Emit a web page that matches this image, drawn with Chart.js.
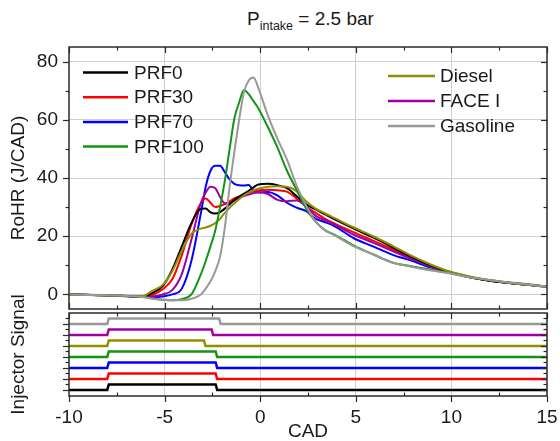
<!DOCTYPE html>
<html><head><meta charset="utf-8">
<script src="https://cdn.jsdelivr.net/npm/chart.js@4.4.1/dist/chart.umd.min.js"></script>
<style>
html,body{margin:0;padding:0;background:#fff;}
#wrap{position:relative;width:560px;height:441px;overflow:hidden;font-family:'Liberation Sans',Arial,sans-serif;color:#1a1a1a;}
#c1{position:absolute;left:0;top:0;}
#c2{position:absolute;left:0;top:280px;}
#title{position:absolute;left:247px;top:9px;font-size:19px;line-height:19px;white-space:nowrap;}
#title sub{font-size:12.5px;position:relative;top:5px;vertical-align:baseline;}
</style></head>
<body><div id="wrap">
<div id="title">P<sub>intake</sub> = 2.5 bar</div>
<canvas id="c1" width="560" height="312"></canvas>
<canvas id="c2" width="560" height="161"></canvas>
</div>
<script>
// ---- data ----
const cad = [-10, -8.15, -6.15, -5.65, -5.1, -4.6, -4.1, -3.6, -3.1, -2.85, -2.6, -2.35, -2.1, -1.85, -1.6, -1.35, -1.1, -0.85, -0.6, -0.35, -0.1, 0.4, 0.9, 1.4, 1.9, 2.4, 2.9, 3.4, 3.9, 4.9, 5.9, 6.9, 7.9, 8.95, 9.95, 10.95, 11.95, 12.95, 14, 15];
const prf0 = [0, -0.3, -0.6, 0.5, 2.9, 8.5, 16.5, 24.5, 29.4, 29.5, 28.2, 27.8, 28.3, 29.5, 31, 32.5, 33.6, 34.6, 35.6, 36.8, 37.8, 38, 37.5, 36.5, 33.8, 31, 29.2, 27.5, 25.8, 22.6, 19.6, 16.3, 12.9, 9.9, 7.6, 6, 4.8, 4, 3.3, 2.7];
const prf30 = [0, -0.3, -0.7, -0.2, 1.8, 5.2, 13.5, 24, 31.4, 33, 31.5, 30, 30.4, 31, 32, 33, 33.6, 34.3, 34.9, 35.4, 35.8, 36, 35.8, 35.3, 33, 30.2, 28, 26, 24.3, 21.3, 18.5, 15.6, 12.5, 9.6, 7.5, 5.9, 4.8, 4, 3.3, 2.7];
const prf70 = [0, -0.3, -0.8, -0.9, -0.7, 0, 2, 11.5, 28, 37, 42.5, 44.2, 44.2, 42, 39.5, 38, 37.5, 37.4, 37.6, 35.5, 35, 35.2, 34, 31.5, 29.8, 28.6, 26, 24.8, 23.4, 19.3, 16.5, 13.7, 11.6, 9.2, 7.4, 5.9, 4.8, 4, 3.3, 2.7];
const prf100 = [0, -0.3, -0.9, -1.4, -1.8, -2, -1.6, 0, 7, 11.5, 16.5, 22, 30, 39, 50, 60.5, 66, 70.2, 68.8, 66.4, 64, 57.5, 50.5, 42.5, 36, 29.5, 25, 22, 20.5, 16.8, 13.8, 11, 9.7, 8.5, 7.3, 6, 5, 4.2, 3.5, 2.7];
const diesel = [0, -0.2, -0.5, 1.2, 3.3, 8, 15, 20.8, 22.6, 23, 23.6, 24.5, 26, 28, 29.8, 31.3, 32.7, 34, 35, 35.8, 36.3, 37, 37.2, 37, 35.5, 32, 29.5, 27.8, 26.2, 23, 20, 16.8, 13.3, 10.2, 7.8, 6.2, 5, 4.1, 3.3, 2.6];
const face1 = [0, -0.3, -0.8, -0.7, 0, 1.5, 7, 18.8, 31.5, 35, 37, 36.5, 33.5, 31.3, 31.4, 32.2, 33.3, 33.8, 34.3, 34.8, 35.2, 34.5, 32.5, 32, 32.3, 30.3, 27, 25.5, 24, 20.5, 17.8, 15, 12.2, 9.5, 7.4, 5.9, 4.8, 4, 3.3, 2.6];
const gasoline = [0, -0.3, -0.9, -1.4, -1.8, -2, -2, -1.5, 0, 2, 4.5, 8, 13, 23, 37, 49, 60, 69.5, 73.5, 74.5, 71, 61.5, 53.5, 46.3, 37.5, 30.5, 25, 22, 20.3, 16.5, 13.8, 11, 9.5, 8.2, 7.2, 5.9, 5, 4.1, 3.4, 2.7];

const seriesNames = ['PRF0', 'PRF30', 'PRF70', 'PRF100', 'Diesel', 'FACE I', 'Gasoline'];
const seriesValues = [prf0, prf30, prf70, prf100, diesel, face1, gasoline];

// injector signal traces (bottom to top: PRF0, PRF30, PRF70, PRF100, Diesel, FACE I, Gasoline)
const injStart = [-8, -8, -8, -8, -8, -8, -8];
const injEnd = [-2.33, -2.33, -2.33, -2.33, -2.94, -2.54, -2.15];
const injLevel = [0, 1, 2, 3, 4, 5, 6];
const injHigh = 0.5;

const xTickLabels = [-10, -5, 0, 5, 10, 15];
const yTickLabels = [0, 20, 40, 60, 80];

// ---- styles ----
const colors = ['#000000', '#ff0000', '#0000ff', '#149414', '#8f8f00', '#a000a0', '#999999'];
const drawOrder = [3, 5, 6, 1, 2, 4, 0];
const FONT = "'Liberation Sans', Arial, sans-serif";
Chart.defaults.font.family = FONT;
Chart.defaults.color = '#1a1a1a';

const frameTicks = {
  id: 'frameTicks',
  afterDraw(chart, args, o) {
    const {ctx, chartArea: a, scales} = chart;
    const xs = scales.x, ys = scales.y;
    ctx.save();
    ctx.strokeStyle = '#2a2a2a';
    ctx.lineWidth = 1.2;
    const seg = (x1, y1, x2, y2) => { ctx.beginPath(); ctx.moveTo(x1, y1); ctx.lineTo(x2, y2); ctx.stroke(); };
    for (let v = xs.min; v <= xs.max + 1e-9; v += o.xStep) {
      const px = Math.round(xs.getPixelForValue(v)) + 0.5;
      const major = Math.abs(v / o.xMajor - Math.round(v / o.xMajor)) < 1e-6;
      const len = major ? 6 : 3.5;
      seg(px, a.top, px, a.top + len);
      if (o.bottomOut && major) seg(px, a.bottom, px, a.bottom + len);
      else seg(px, a.bottom, px, a.bottom - len);
    }
    for (let v = o.yFrom; v <= o.yTo + 1e-9; v += o.yStep) {
      const py = Math.round(ys.getPixelForValue(v)) + 0.5;
      const major = Math.abs(v / o.yMajor - Math.round(v / o.yMajor)) < 1e-6;
      const len = major ? 6 : 3.5;
      seg(a.left, py, a.left - len, py);
      seg(a.right, py, a.right - len, py);
    }
    ctx.lineWidth = 1.5;
    ctx.strokeRect(a.left, a.top, a.right - a.left, a.bottom - a.top);
    ctx.restore();
  }
};

const inLegend = {
  id: 'inLegend',
  afterDatasetsDraw(chart, args, o) {
    if (!o.groups) return;
    const ctx = chart.ctx;
    ctx.save();
    ctx.font = '19px ' + FONT;
    ctx.textBaseline = 'middle';
    ctx.textAlign = 'left';
    o.groups.forEach(g => {
      g.items.forEach((di, k) => {
        const ds = chart.data.datasets[di];
        const y = g.y + k * g.dy;
        ctx.strokeStyle = ds.borderColor;
        ctx.lineWidth = 2.5;
        ctx.beginPath(); ctx.moveTo(g.x0, y); ctx.lineTo(g.x1, y); ctx.stroke();
        ctx.fillStyle = '#1a1a1a';
        ctx.fillText(ds.label, g.tx, y + 1);
      });
    });
    ctx.restore();
  }
};

const gridX = (ctx) => {
  const v = ctx.tick ? ctx.tick.value : NaN;
  return (v > -10 && v < 15) ? '#cfcfcf' : 'rgba(0,0,0,0)';
};

// ---- top chart ----
new Chart(document.getElementById('c1'), {
  type: 'line',
  data: {
    datasets: seriesNames.map((name, i) => ({
      label: name,
      data: cad.map((x, j) => ({x: x, y: seriesValues[i][j]})),
      borderColor: colors[i],
      backgroundColor: colors[i],
      borderWidth: 2,
      pointRadius: 0,
      cubicInterpolationMode: 'monotone',
      fill: false,
      order: drawOrder[i]
    }))
  },
  options: {
    responsive: false,
    animation: false,
    layout: {padding: {top: 47, right: 13, bottom: 3, left: 0}},
    scales: {
      x: {
        type: 'linear', min: -10, max: 15,
        afterBuildTicks: s => { s.ticks = xTickLabels.map(v => ({value: v})); },
        afterFit: s => { s.height = 0; s.paddingLeft = 0; s.paddingRight = 0; },
        ticks: {display: false},
        grid: {color: gridX, drawTicks: false, lineWidth: 1},
        border: {display: false}
      },
      y: {
        type: 'linear', min: -5, max: 85,
        afterBuildTicks: s => { s.ticks = yTickLabels.map(v => ({value: v})); },
        afterFit: s => { s.width = 69; s.paddingTop = 0; s.paddingBottom = 0; },
        ticks: {font: {size: 19}, padding: 11, color: '#1a1a1a'},
        grid: {color: '#cfcfcf', drawTicks: false, lineWidth: 1},
        border: {display: false},
        title: {display: true, text: 'RoHR (J/CAD)', font: {size: 19}, padding: {top: 7, bottom: 0}, color: '#1a1a1a'}
      }
    },
    plugins: {
      legend: {display: false},
      tooltip: {enabled: false},
      frameTicks: {xStep: 2.5, xMajor: 5, yFrom: 0, yTo: 80, yStep: 10, yMajor: 20, bottomOut: false},
      inLegend: {groups: [
        {items: [0, 1, 2, 3], x0: 83, x1: 128, tx: 134, y: 72.5, dy: 24.7},
        {items: [4, 5, 6], x0: 388, x1: 435, tx: 440, y: 76, dy: 25}
      ]}
    }
  },
  plugins: [frameTicks, inLegend]
});

// ---- bottom chart (injector signal) ----
new Chart(document.getElementById('c2'), {
  type: 'line',
  data: {
    datasets: seriesNames.map((name, i) => {
      const b = injLevel[i], s = injStart[i], e = injEnd[i];
      return {
        label: name,
        data: [
          {x: -10, y: b}, {x: s, y: b}, {x: s + 0.08, y: b + injHigh},
          {x: e, y: b + injHigh}, {x: e + 0.08, y: b}, {x: 15, y: b}
        ],
        borderColor: colors[i],
        borderWidth: 2.5,
        pointRadius: 0,
        tension: 0,
        fill: false
      };
    })
  },
  options: {
    responsive: false,
    animation: false,
    layout: {padding: {top: 33, right: 13, bottom: 0, left: 0}},
    scales: {
      x: {
        type: 'linear', min: -10, max: 15,
        afterBuildTicks: s => { s.ticks = xTickLabels.map(v => ({value: v})); },
        afterFit: s => { s.height = 45; s.paddingLeft = 0; s.paddingRight = 0; },
        ticks: {font: {size: 19}, padding: 10, color: '#1a1a1a', maxRotation: 0},
        grid: {color: gridX, drawTicks: false, lineWidth: 1},
        border: {display: false},
        title: {display: true, text: 'CAD', font: {size: 19, lineHeight: 1}, padding: {top: 0, bottom: 0}, color: '#1a1a1a'}
      },
      y: {
        type: 'linear', min: -0.55, max: 7.0,
        afterFit: s => { s.width = 69; s.paddingTop = 0; s.paddingBottom = 0; },
        ticks: {display: false},
        grid: {display: false},
        border: {display: false},
        title: {display: true, text: 'Injector Signal', font: {size: 19}, padding: {top: 7, bottom: 0}, color: '#1a1a1a'}
      }
    },
    plugins: {
      legend: {display: false},
      tooltip: {enabled: false},
      frameTicks: {xStep: 2.5, xMajor: 5, yFrom: 0, yTo: 6.5, yStep: 0.5, yMajor: 1, bottomOut: true}
    }
  },
  plugins: [frameTicks]
});
</script>
</body></html>
